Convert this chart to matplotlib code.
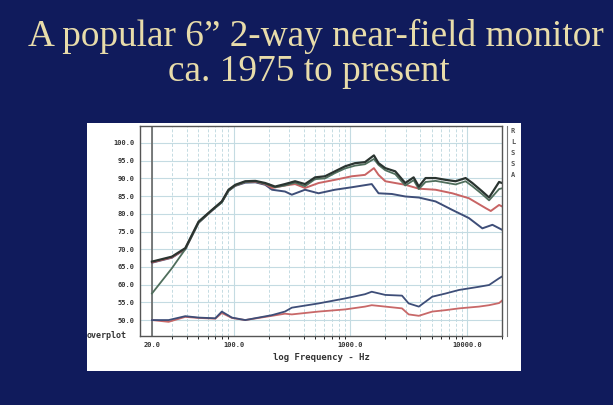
import numpy as np
import matplotlib.pyplot as plt
from matplotlib.patches import Rectangle
from matplotlib.ticker import FixedLocator, NullFormatter

# frequency (Hz) / level (dB)
freq_main = [20, 29.6, 38.6, 50.2, 65.3, 79.4, 90.6, 103.6, 126, 154, 187, 227, 276, 337, 410,
             500, 608, 740, 902, 1099, 1339, 1597, 1750, 2000, 2433, 2964, 3497, 3876, 4425,
             5393, 6570, 8002, 9750, 11140, 13570, 15500, 18880, 20000]
on_axis = [66.5, 67.9, 70.3, 77.8, 81.1, 83.5, 86.8, 88.2, 89.2, 89.3, 88.7, 87.7, 88.4, 89.2, 88.4,
           90.3, 90.6, 92.0, 93.4, 94.3, 94.6, 96.5, 94.3, 92.9, 92.0, 88.7, 90.3, 87.7, 90.1,
           90.1, 89.6, 89.2, 90.1, 88.7, 86.3, 84.6, 89.0, 88.7]
listen_win = [57.5, 64.6, 70.0, 77.5, 81.0, 83.2, 86.5, 88.0, 89.0, 89.2, 88.5, 87.5, 88.0, 88.8, 87.8,
              89.8, 90.0, 91.5, 92.8, 93.6, 94.0, 95.5, 93.8, 92.3, 91.2, 88.0, 89.5, 87.0, 89.0,
              89.3, 88.8, 88.3, 89.2, 87.8, 85.5, 83.8, 87.0, 87.2]

freq_er = [20, 29.6, 38.6, 50.2, 65.3, 79.4, 90.6, 103.6, 126, 154, 187, 214, 276, 337, 410,
           536, 740, 1030, 1339, 1597, 1750, 2000, 2964, 3876, 5393, 7500, 10410, 14500, 16030,
           18880, 20000]
early_refl = [66.3, 67.7, 70.1, 77.6, 81.0, 83.4, 86.6, 88.0, 89.0, 89.1, 88.4, 87.3, 88.0, 88.4, 87.3,
              88.7, 89.6, 90.6, 91.0, 92.9, 91.0, 89.2, 88.2, 87.1, 86.8, 85.8, 84.4, 81.6, 80.8,
              82.5, 82.1]

freq_sp = [20, 29.6, 38.6, 50.2, 65.3, 79.4, 90.6, 103.6, 126, 154, 187, 214, 276, 316, 410,
           536, 740, 1030, 1530, 1750, 2280, 2964, 3876, 5393, 7500, 10410, 13570, 16560, 20000]
sound_pow = [66.2, 67.6, 70.0, 77.5, 80.9, 83.3, 86.5, 87.9, 88.8, 88.9, 88.2, 86.8, 86.3, 85.4, 86.8,
             85.8, 86.8, 87.5, 88.4, 85.8, 85.6, 84.9, 84.6, 83.5, 81.1, 78.8, 75.9, 76.9, 75.5]

freq_di = [20, 27.8, 38.6, 50.2, 69.8, 79.4, 96.9, 126, 164, 214, 276, 316, 536, 902, 1339,
           1530, 2000, 2780, 3170, 3876, 5050, 6570, 8560, 12700, 15500, 18880, 20000]
sp_di = [50.0, 50.0, 51.1, 50.7, 50.5, 52.4, 50.7, 50.0, 50.7, 51.4, 52.4, 53.5, 54.7, 56.1, 57.3,
         58.0, 57.1, 56.9, 54.7, 53.8, 56.6, 57.5, 58.5, 59.4, 59.9, 61.8, 62.3]
er_di = [50.0, 49.5, 50.9, 50.6, 50.4, 52.0, 50.6, 50.0, 50.6, 51.2, 51.8, 51.6, 52.4, 53.0, 53.8,
         54.2, 53.8, 53.3, 51.6, 51.2, 52.4, 52.8, 53.3, 53.8, 54.2, 54.8, 55.5]

y_ticks = [50, 55, 60, 65, 70, 75, 80, 85, 90, 95, 100]
x_ticks = [20, 100, 1000, 10000]
curve_keys = ["R", "L", "S", "S", "A"]

W, H = 613, 405
fig = plt.figure(figsize=(W / 100, H / 100), dpi=100)
fig.patch.set_facecolor("#101b5c")

def fx(px):
    return px / W

def fy(py):
    return 1 - py / H

# slide title
title_col = "#e8dcaa"
fig.text(fx(316), fy(36), "A popular 6\u201d 2-way near-field monitor", ha="center", va="center",
         family="Liberation Serif", fontsize=26.8, color=title_col)
fig.text(fx(309), fy(72), "ca. 1975 to present", ha="center", va="center",
         family="Liberation Serif", fontsize=26.8, color=title_col)

# white panel of the screenshot
fig.patches.append(Rectangle((fx(87), fy(371)), fx(521) - fx(87), fy(123) - fy(371),
                             transform=fig.transFigure, facecolor="white", edgecolor="none", zorder=-1))

ax = fig.add_axes([fx(140), fy(336), fx(502) - fx(140), fy(126) - fy(336)])
ax.set_zorder(2)
ax.set_xscale("log")
ax.set_xlim(15.8, 20000)
ax.set_ylim(45.5, 104.8)

grid_col = "#c4dbe2"
ax.xaxis.set_major_locator(FixedLocator(x_ticks))
minors = [f * 10 ** k for k in range(1, 5) for f in range(2, 10) if f * 10 ** k <= 20000]
ax.xaxis.set_minor_locator(FixedLocator(minors))
ax.xaxis.set_minor_formatter(NullFormatter())
ax.set_xticklabels([f"{t}.0" for t in x_ticks])
ax.set_yticks(y_ticks)
ax.set_yticklabels([f"{t}.0" for t in y_ticks])
ax.grid(True, which="major", color=grid_col, lw=0.8)
ax.grid(True, which="minor", axis="x", color=grid_col, lw=0.7, ls=(0, (3, 2)))
ax.tick_params(length=0, labelsize=5, pad=4)
for lab in ax.get_xticklabels() + ax.get_yticklabels():
    lab.set_family("DejaVu Sans Mono")
    lab.set_fontweight("bold")
    lab.set_color("#333333")
for s in ax.spines.values():
    s.set_color("#555555")
    s.set_linewidth(1.0)
ax.axvline(20, color="#666666", lw=1.2)

ax.plot(freq_di, er_di, color="#c86868", lw=1.3)
ax.plot(freq_di, sp_di, color="#3e4e78", lw=1.3)
ax.plot(freq_sp, sound_pow, color="#3e4e78", lw=1.4)
ax.plot(freq_er, early_refl, color="#c86464", lw=1.4)
ax.plot(freq_main, listen_win, color="#4f6e5c", lw=1.3)
ax.plot(freq_main, on_axis, color="#2a3430", lw=1.6)

ax.set_xlabel("log Frequency - Hz", family="DejaVu Sans Mono", fontweight="bold",
              fontsize=6.5, color="#333333", labelpad=4)
fig.text(fx(87), fy(336), "overplot", family="DejaVu Sans Mono", fontweight="bold",
         fontsize=6, color="#333333", ha="left", va="center")

# curve key strip at the right
fig.add_artist(plt.Line2D([fx(507), fx(507)], [fy(126), fy(336)], color="#777777", lw=0.8))
for i, k in enumerate(curve_keys):
    fig.text(fx(513), fy(131 + 11 * i), k, family="DejaVu Sans Mono", fontweight="bold",
             fontsize=5, color="#555555", ha="center", va="center")

fig.savefig("out.png", dpi=100, facecolor=fig.get_facecolor())
